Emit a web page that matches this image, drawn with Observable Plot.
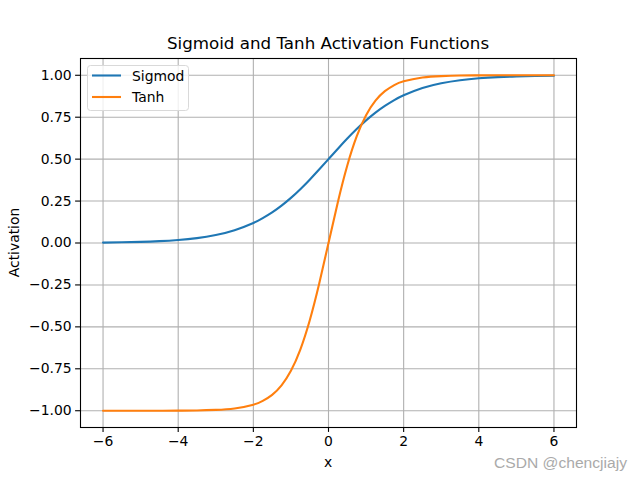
<!DOCTYPE html>
<html>
<head>
<meta charset="utf-8">
<script src="https://cdn.jsdelivr.net/npm/d3@7"></script>
<script src="https://cdn.jsdelivr.net/npm/@observablehq/plot@0.6"></script>
<style>
  body { margin: 0; background: #fff; }
  #chart { width: 640px; height: 480px; }
</style>
</head>
<body>
<div id="chart"></div>
<script>
const xs = [-6,-5.5,-5,-4.5,-4,-3.5,-3,-2.5,-2,-1.75,-1.5,-1.25,-1,-0.75,-0.5,-0.25,0,0.25,0.5,0.75,1,1.25,1.5,1.75,2,2.5,3,3.5,4,4.5,5,5.5,6];
const sigmoidValues = [0.0025,0.0041,0.0067,0.0110,0.0180,0.0293,0.0474,0.0759,0.1192,0.1480,0.1824,0.2227,0.2689,0.3208,0.3775,0.4378,0.5,0.5622,0.6225,0.6792,0.7311,0.7773,0.8176,0.8520,0.8808,0.9241,0.9526,0.9707,0.9820,0.9890,0.9933,0.9959,0.9975];
const tanhValues = [-1.0,-1.0,-0.9999,-0.9998,-0.9993,-0.9982,-0.9951,-0.9866,-0.9640,-0.9414,-0.9051,-0.8483,-0.7616,-0.6351,-0.4621,-0.2449,0,0.2449,0.4621,0.6351,0.7616,0.8483,0.9051,0.9414,0.9640,0.9866,0.9951,0.9982,0.9993,0.9998,0.9999,1.0,1.0];
const seriesNames = ["Sigmod", "Tanh"];
const seriesColors = ["#1f77b4", "#ff7f0e"];
const xTicks = [-6,-4,-2,0,2,4,6];
const yTicks = [-1,-0.75,-0.5,-0.25,0,0.25,0.5,0.75,1];
const titleText = "Sigmoid and Tanh Activation Functions";
const xLabel = "x";
const yLabel = "Activation";
const watermark = "CSDN @chencjiajy";

const sig = xs.map((x, i) => ({x, y: sigmoidValues[i]}));
const tnh = xs.map((x, i) => ({x, y: tanhValues[i]}));

const fontFam = "DejaVu Sans, sans-serif";
const fmtY = d3.format(".2f");
const fmtX = d3.format("d");

const W = 640, H = 480;
const mL = 80, mR = 64, mT = 58, mB = 53;

const chart = Plot.plot({
  width: W, height: H,
  marginLeft: mL, marginRight: mR, marginTop: mT, marginBottom: mB,
  style: { fontFamily: fontFam, fontSize: "13.9px", color: "#000", background: "#fff" },
  x: { domain: [-6.6, 6.6], label: null },
  y: { domain: [-1.1, 1.1], label: null },
  marks: [
    Plot.gridX(xTicks, { stroke: "#b0b0b0", strokeOpacity: 1, strokeWidth: 1.1 }),
    Plot.gridY(yTicks, { stroke: "#b0b0b0", strokeOpacity: 1, strokeWidth: 1.1 }),
    Plot.axisX({ ticks: xTicks, tickFormat: fmtX, tickSize: 4.9, tickPadding: 4, strokeWidth: 1.1, fontSize: 13.9 }),
    Plot.axisY({ ticks: yTicks, tickFormat: fmtY, tickSize: 4.9, tickPadding: 4, strokeWidth: 1.1, fontSize: 13.9 }),
    Plot.line(sig, { x: "x", y: "y", stroke: seriesColors[0], strokeWidth: 2.1, curve: "natural" }),
    Plot.line(tnh, { x: "x", y: "y", stroke: seriesColors[1], strokeWidth: 2.1, curve: "natural" }),
    Plot.frame({ stroke: "#000", strokeWidth: 1.1 })
  ]
});

document.getElementById("chart").appendChild(chart);

const svg = d3.select(chart);
const cx = (mL + (W - mR)) / 2;

svg.append("text")
  .attr("x", cx).attr("y", 49)
  .attr("text-anchor", "middle")
  .style("font-family", fontFam).style("font-size", "16.7px")
  .attr("fill", "#000")
  .text(titleText);

svg.append("text")
  .attr("x", cx).attr("y", 467)
  .attr("text-anchor", "middle")
  .style("font-family", fontFam).style("font-size", "13.9px")
  .attr("fill", "#000")
  .text(xLabel);

svg.append("text")
  .attr("transform", `translate(19, ${(mT + (H - mB)) / 2}) rotate(-90)`)
  .attr("text-anchor", "middle")
  .style("font-family", fontFam).style("font-size", "13.9px")
  .attr("fill", "#000")
  .text(yLabel);

// legend
const lg = svg.append("g");
lg.append("rect")
  .attr("x", 87.5).attr("y", 65.5).attr("width", 101).attr("height", 45)
  .attr("rx", 3).attr("ry", 3)
  .attr("fill", "#fff").attr("fill-opacity", 0.8)
  .attr("stroke", "#d9d9d9").attr("stroke-width", 1);
seriesNames.forEach((name, i) => {
  const yy = 75.5 + i * 21.5;
  lg.append("line")
    .attr("x1", 92).attr("x2", 121).attr("y1", yy).attr("y2", yy)
    .attr("stroke", seriesColors[i]).attr("stroke-width", 2.1);
  lg.append("text")
    .attr("x", 132).attr("y", yy + 5)
    .attr("text-anchor", "start")
    .style("text-anchor", "start")
    .style("font-family", fontFam).style("font-size", "13.9px")
    .attr("fill", "#000")
    .text(name);
});

svg.append("text")
  .attr("x", 494).attr("y", 468)
  .attr("text-anchor", "start")
  .style("text-anchor", "start")
  .attr("textLength", 133).attr("lengthAdjust", "spacingAndGlyphs")
  .style("font-family", "Liberation Sans, Arial, sans-serif").style("font-size", "14px")
  .attr("fill", "#aaaaaa")
  .text(watermark);
</script>
</body>
</html>
